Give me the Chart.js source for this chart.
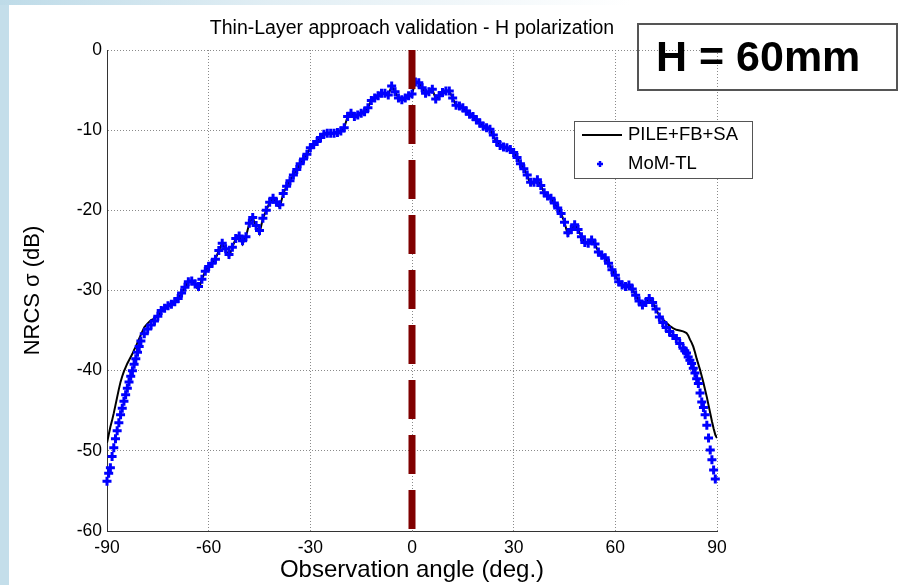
<!DOCTYPE html>
<html>
<head>
<meta charset="utf-8">
<script src="https://cdn.jsdelivr.net/npm/chart.js@4.4.0/dist/chart.umd.min.js"></script>
<style>
    body { margin: 0; background: #fff; }
    #wrap { position: relative; width: 901px; height: 585px; overflow: hidden; background: #fff; }
    #leftStrip { position: absolute; left: 0; top: 0; width: 9px; height: 585px; background: rgb(196, 222, 234); }
    #topStrip { position: absolute; left: 0; top: 0; width: 901px; height: 5px;
        background: linear-gradient(to right, rgb(190, 219, 232), rgb(225, 238, 244) 30%, #fff 70%); }
    #hBox { position: absolute; left: 637px; top: 23px; width: 261px; height: 68px; box-sizing: border-box;
        border: 2px solid #555; padding-left: 17px; padding-top: 7px; line-height: 57px;
        font: bold 43px 'Liberation Sans', Arial, sans-serif; color: #000; }
    canvas { position: absolute; left: 0; top: 0; }
</style>
</head>
<body>
<div id="wrap">
    <div id="leftStrip"></div>
    <div id="topStrip"></div>
    <canvas id="rcsChart" width="901" height="585"></canvas>
    <div id="hBox">H = 60mm</div>
</div>
<script>
// Observation angles (deg), finer steps near grazing
const angles = [
    -90, -89.5, -89, -88.5, -88, -87.5, -87, -86.5, -86, -85.5, -85, -84.5, -84, -83.5, -83, -82.5, -82, -81.5, -81, -80.5, -80,
    -79, -78, -77, -76, -75, -74, -73, -72, -71, -70, -69, -68, -67, -66, -65, -64, -63, -62, -61, -60,
    -59, -58, -57, -56, -55, -54, -53, -52, -51, -50, -49, -48, -47, -46, -45, -44, -43, -42, -41, -40,
    -39, -38, -37, -36, -35, -34, -33, -32, -31, -30, -29, -28, -27, -26, -25, -24, -23, -22, -21, -20,
    -19, -18, -17, -16, -15, -14, -13, -12, -11, -10, -9, -8, -7, -6, -5, -4, -3, -2, -1, 0,
    1, 2, 3, 4, 5, 6, 7, 8, 9, 10, 11, 12, 13, 14, 15, 16, 17, 18, 19, 20,
    21, 22, 23, 24, 25, 26, 27, 28, 29, 30, 31, 32, 33, 34, 35, 36, 37, 38, 39, 40,
    41, 42, 43, 44, 45, 46, 47, 48, 49, 50, 51, 52, 53, 54, 55, 56, 57, 58, 59, 60,
    61, 62, 63, 64, 65, 66, 67, 68, 69, 70, 71, 72, 73, 74, 75, 76, 77, 78, 79,
    80, 80.5, 81, 81.5, 82, 82.5, 83, 83.5, 84, 84.5, 85, 85.5, 86, 86.5, 87, 87.5, 88, 88.5, 89, 89.5, 90
];

// MoM-TL (blue crosses), NRCS in dB
const momTL = [
    -53.8, -52.8, -52.1, -50.7, -49.6, -48.5, -47.5, -46.5, -45.5, -44.7, -43.8, -43.0, -42.2, -41.4, -40.7, -40.0, -39.2, -38.5, -37.7, -37.0, -36.3,
    -35.4, -34.8, -34.3, -33.8, -33.2, -32.5, -32.2, -31.9, -31.7, -31.4, -31.0, -30.3, -29.6, -28.9, -28.8, -29.2, -29.5, -28.6, -27.6, -27.0,
    -26.6, -26.1, -25.0, -24.1, -24.8, -25.5, -24.6, -23.5, -23.2, -23.8, -23.3, -21.6, -20.9, -21.9, -22.5, -21.0, -20.0, -19.0, -18.5, -19.0,
    -19.3, -17.9, -17.0, -16.3, -15.6, -14.9, -14.2, -13.6, -13.0, -12.2, -11.8, -11.4, -10.9, -10.5, -10.4, -10.4, -10.4, -10.3, -10.1, -9.7,
    -8.3, -7.9, -8.3, -8.1, -7.9, -7.7, -7.2, -6.3, -6.0, -5.7, -5.4, -5.4, -5.6, -4.5, -5.2, -6.0, -6.2, -6.0, -5.7, -5.5,
    -4.0, -4.1, -4.7, -5.4, -5.2, -4.9, -6.1, -5.7, -5.3, -5.1, -5.1, -6.0, -6.9, -7.0, -7.2, -7.6, -8.0, -8.3, -8.7, -9.1,
    -9.5, -9.7, -9.9, -10.6, -11.4, -11.9, -12.1, -12.2, -12.4, -12.8, -13.4, -14.2, -14.8, -15.6, -16.5, -16.5, -16.2, -16.9, -17.8, -18.2,
    -18.5, -19.1, -19.7, -20.4, -21.5, -22.8, -22.4, -21.8, -22.4, -23.3, -24.0, -24.1, -23.7, -24.2, -25.2, -25.6, -25.9, -26.6, -27.4, -28.1,
    -28.9, -29.3, -29.5, -29.3, -29.8, -30.6, -31.3, -31.8, -31.5, -31.0, -31.5, -32.3, -33.3, -34.0, -34.6, -35.1, -35.6, -36.0, -36.6,
    -37.2, -37.5, -37.8, -38.3, -38.7, -39.1, -39.7, -40.3, -41.0, -41.6, -42.8, -43.9, -44.6, -45.5, -46.8, -48.4, -49.9, -51.1, -52.4, -53.5, null
];

// PILE+FB+SA (black line), NRCS in dB
const pileFbSa = [
    -49.0, -48.0, -47.0, -46.2, -45.3, -44.3, -43.3, -42.3, -41.4, -40.7, -40.1, -39.6, -39.1, -38.7, -38.3, -37.9, -37.4, -37.0, -36.5, -36.0, -35.5,
    -34.6, -34.1, -33.7, -33.5, -33.2, -32.6, -32.2, -31.9, -31.7, -31.4, -31.0, -30.3, -29.6, -28.9, -28.8, -29.4, -29.9, -28.6, -27.6, -27.0,
    -26.6, -26.1, -25.0, -24.1, -24.9, -25.8, -24.6, -23.5, -23.2, -24.2, -23.3, -21.6, -20.9, -22.1, -22.9, -21.0, -20.0, -19.0, -18.5, -19.3,
    -19.6, -17.9, -17.0, -16.3, -15.6, -14.9, -14.2, -13.6, -13.0, -12.2, -11.8, -11.4, -10.9, -10.5, -10.4, -10.4, -10.4, -10.3, -10.1, -9.7,
    -8.3, -7.9, -8.3, -8.1, -7.9, -7.7, -7.2, -6.3, -6.0, -5.7, -5.4, -5.4, -5.6, -4.5, -5.2, -6.0, -6.2, -6.0, -5.7, -5.5,
    -4.0, -4.1, -4.7, -5.4, -5.2, -4.9, -6.1, -5.7, -5.3, -5.1, -5.1, -6.0, -6.9, -7.0, -7.2, -7.6, -8.0, -8.3, -8.7, -9.1,
    -9.5, -9.7, -9.9, -10.8, -11.4, -11.9, -12.1, -12.2, -12.4, -12.8, -13.4, -14.2, -14.8, -15.6, -16.8, -16.5, -16.2, -16.9, -17.8, -18.2,
    -18.5, -19.1, -19.7, -20.4, -21.5, -23.1, -22.4, -21.8, -22.4, -23.3, -24.0, -24.1, -23.7, -24.2, -25.2, -25.6, -25.9, -26.6, -27.4, -28.1,
    -28.9, -29.3, -29.5, -29.3, -29.8, -30.6, -31.3, -31.8, -31.5, -31.0, -31.5, -32.3, -33.2, -33.6, -34.0, -34.4, -34.7, -34.9, -35.0,
    -35.1, -35.2, -35.3, -35.6, -36.1, -36.5, -37.0, -37.7, -38.5, -39.2, -39.9, -40.7, -41.5, -42.4, -43.3, -44.3, -45.3, -46.3, -47.2, -48.0, -48.4
];

// Specular direction marker
const specularAngle = [0, 0];
const specularLevel = [0, -60];

const xTicks = [-90, -60, -30, 0, 30, 60, 90];
const yTicks = [-60, -50, -40, -30, -20, -10, 0];

const FONT = "'Liberation Sans', Arial, Helvetica, sans-serif";

const toPoints = (xs, ys) => xs.map((x, i) => ({ x: x, y: ys[i] }));

// Legend box drawn inside the plot, MATLAB style
const legendBox = {
    id: 'legendBox',
    afterDraw(chart) {
        const ctx = chart.ctx;
        ctx.save();
        ctx.fillStyle = '#fff';
        ctx.strokeStyle = '#555';
        ctx.lineWidth = 1;
        ctx.fillRect(574.5, 121.5, 178, 57);
        ctx.strokeRect(574.5, 121.5, 178, 57);

        ctx.strokeStyle = '#000';
        ctx.lineWidth = 2;
        ctx.beginPath();
        ctx.moveTo(582, 135);
        ctx.lineTo(622, 135);
        ctx.stroke();

        ctx.strokeStyle = '#0000ff';
        ctx.lineWidth = 2.5;
        ctx.beginPath();
        ctx.moveTo(597, 164);
        ctx.lineTo(603, 164);
        ctx.moveTo(600, 161);
        ctx.lineTo(600, 167);
        ctx.stroke();

        ctx.fillStyle = '#000';
        ctx.font = '18.5px ' + FONT;
        ctx.textBaseline = 'middle';
        ctx.textAlign = 'left';
        ctx.fillText('PILE+FB+SA', 628, 135);
        ctx.fillText('MoM-TL', 628, 164);
        ctx.restore();
    }
};

const ctx = document.getElementById('rcsChart').getContext('2d');
const rcsChart = new Chart(ctx, {
    type: 'scatter',
    data: {
        datasets: [
            {
                label: 'specular',
                data: toPoints(specularAngle, specularLevel),
                showLine: true,
                borderColor: '#800000',
                borderWidth: 7,
                borderDash: [39, 16],
                borderCapStyle: 'butt',
                pointRadius: 0,
            },
            {
                label: 'MoM-TL',
                data: toPoints(angles, momTL),
                showLine: false,
                clip: false,
                pointStyle: 'cross',
                pointRadius: 4.5,
                pointBorderWidth: 3,
                borderColor: '#0000ff',
                backgroundColor: '#0000ff',
            },
            {
                label: 'PILE+FB+SA',
                data: toPoints(angles, pileFbSa),
                showLine: true,
                borderColor: '#000',
                borderWidth: 2,
                pointRadius: 0,
                tension: 0,
            },
        ],
    },
    options: {
        responsive: false,
        animation: false,
        layout: {
            padding: { left: 10, right: 184, top: 0, bottom: 0 },
        },
        plugins: {
            legend: { display: false },
            tooltip: { enabled: false },
            title: {
                display: true,
                text: 'Thin-Layer approach validation - H polarization',
                fullSize: false,
                color: '#000',
                font: { family: FONT, size: 19.5, weight: 'normal' },
                padding: { top: 17, bottom: 9.6 },
            },
        },
        scales: {
            x: {
                type: 'linear',
                min: -90,
                max: 90,
                afterBuildTicks: (scale) => { scale.ticks = xTicks.map(v => ({ value: v })); },
                afterFit: (scale) => { scale.height = 54; },
                ticks: {
                    color: '#000',
                    padding: 7,
                    font: { family: FONT, size: 17.5 },
                },
                grid: { color: '#8a8a8a', lineWidth: 1, drawTicks: false },
                border: { display: true, color: '#333', width: 1, dash: [1, 2] },
                title: {
                    display: true,
                    text: 'Observation angle (deg.)',
                    color: '#000',
                    font: { family: FONT, size: 24 },
                    padding: { top: 0, bottom: 0 },
                },
            },
            y: {
                type: 'linear',
                min: -60,
                max: 0,
                afterBuildTicks: (scale) => { scale.ticks = yTicks.map(v => ({ value: v })); },
                afterFit: (scale) => { scale.width = 97; },
                ticks: {
                    color: '#000',
                    padding: 5,
                    font: { family: FONT, size: 17.5 },
                },
                grid: { color: '#8a8a8a', lineWidth: 1, drawTicks: false },
                border: { display: true, color: '#333', width: 1, dash: [1, 2] },
                title: {
                    display: true,
                    text: 'NRCS σ (dB)',
                    color: '#000',
                    font: { family: FONT, size: 22 },
                    padding: { top: 10, bottom: 0 },
                },
            },
        },
    },
    plugins: [legendBox],
});
</script>
</body>
</html>
